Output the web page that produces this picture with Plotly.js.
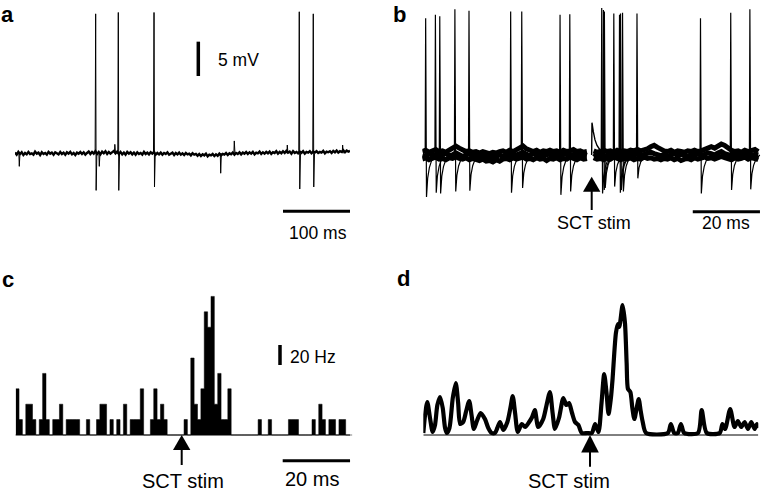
<!DOCTYPE html>
<html>
<head>
<meta charset="utf-8">
<script src="https://cdn.plot.ly/plotly-3.0.1.min.js"></script>
<style>html,body{margin:0;padding:0;background:#fff;}#chart{width:761px;height:494px;}</style>
</head>
<body>
<div id="chart"></div>
<script>
// ---------------- DATA ----------------
// Panel a: single sweep, 0-500 ms, baseline sampled every 2.5 ms (mV)
const aStepMs = 2.5;
const aBaseline = [
 0.1,-0.2,0.2,-0.1,0.15,-0.25,0.05,-0.15,0.2,-0.1,
 0.0,-0.2,0.25,-0.05,0.1,-0.25,0.15,-0.1,0.05,-0.2,
 0.2,-0.05,0.1,-0.2,0.15,0.0,-0.15,0.2,-0.1,0.1,
 -0.2,0.15,-0.05,0.2,-0.15,0.05,-0.25,0.1,-0.05,0.2,
 -0.1,0.15,-0.2,0.05,0.25,-0.1,0.2,-0.05,0.3,-0.1,
 0.2,-0.15,0.25,0.0,0.3,-0.1,0.2,-0.05,0.15,0.35,
 0.0,0.25,-0.1,0.2,-0.15,0.1,-0.2,0.2,-0.05,0.15,
 -0.15,0.1,-0.2,0.15,-0.1,0.05,-0.2,0.2,-0.1,0.1,
 -0.15,0.15,-0.05,0.2,-0.2,0.05,-0.15,0.1,-0.2,0.05,
 -0.1,0.15,-0.2,0.0,0.1,-0.25,0.05,-0.15,0.1,-0.2,
 0.0,-0.25,0.05,-0.15,-0.05,-0.3,0.0,-0.2,-0.1,-0.35,
 -0.1,-0.4,-0.15,-0.3,-0.05,-0.45,-0.2,-0.3,-0.1,-0.4,
 -0.15,-0.35,-0.05,-0.3,-0.1,-0.2,0.05,-0.25,0.0,-0.15,
 0.1,-0.2,0.05,-0.1,0.15,-0.15,0.1,-0.05,0.2,-0.1,
 0.15,-0.05,0.2,-0.15,0.1,0.0,0.25,-0.1,0.15,-0.05,
 0.2,0.0,0.25,-0.1,0.15,0.05,0.3,-0.05,0.2,0.0,
 0.3,0.05,0.35,0.1,0.25,-0.05,0.3,0.05,0.2,0.0,
 0.25,0.05,0.3,-0.05,0.2,0.1,0.3,0.0,0.25,0.1,
 0.3,0.05,0.2,0.1,0.35,0.0,0.25,0.15,0.3,0.05,
 0.35,0.15,0.4,0.1,0.3,0.2,0.45,0.15,0.4,0.25,
 0.35];
const aSpikeT      = [120.4, 154.2, 207.5, 424.3, 445.2];
const aSpikePeak   = [20.3, 20.5, 20.5, 20.6, 20.3];
const aSpikeTrough = [-5.4, -5.4, -4.9, -5.2, -4.9];
const aBlipT = [6.4, 125.8, 149, 307, 327.3, 406.4, 489];
const aBlipV = [-1.9, -1.9, 1.3, -2.9, 1.8, 1.2, 1.2];

// Panel b: overlaid sweeps, -50..50 ms around SCT stim, 1 ms samples (mV); null = stim blanking
const bSweepA = [
 0.5,0.7,0.4,0.6,0.8,0.5,0.6,0.4,0.7,0.9,
 1.3,1.0,0.7,0.5,0.6,0.4,0.5,0.3,0.5,0.4,
 0.2,0.4,0.3,0.5,0.6,0.4,0.7,0.5,0.8,1.0,
 1.3,0.9,0.6,0.5,0.7,0.4,0.6,0.5,0.7,0.5,
 0.6,0.4,0.7,0.5,0.6,0.8,0.5,0.6,0.4,0.5,
 null,
 0.6,0.4,0.5,0.7,0.5,0.6,0.4,0.7,0.5,0.6,
 0.5,0.7,0.6,0.8,0.6,0.7,0.9,1.2,1.4,1.1,
 0.8,0.6,0.5,0.7,0.4,0.6,0.5,0.4,0.6,0.5,
 0.7,0.5,0.6,0.8,1.0,1.2,1.0,1.3,1.6,1.4,
 1.0,0.7,0.5,0.6,0.4,0.7,0.5,0.6,0.8,0.5];
const bSweepB = [
 0.0,-0.2,0.2,-0.1,0.1,-0.3,0.1,0.2,-0.1,0.0,
 0.3,0.1,-0.2,0.0,0.2,-0.1,0.1,-0.2,0.0,-0.3,
 -0.2,-0.4,-0.1,0.0,-0.2,0.1,-0.1,0.2,0.0,0.3,
 0.4,0.1,-0.1,0.2,0.0,-0.2,0.1,0.0,0.2,-0.1,
 0.1,-0.2,0.2,0.0,-0.1,0.1,-0.2,0.1,0.0,-0.1,
 null,
 0.2,-0.1,0.1,0.0,-0.2,0.1,0.2,-0.1,0.0,0.1,
 -0.2,0.1,0.0,0.2,-0.1,0.1,0.3,0.4,0.2,0.0,
 -0.1,0.1,-0.2,0.0,0.2,-0.1,0.1,0.0,-0.2,0.1,
 0.0,0.2,-0.1,0.1,0.3,0.2,0.0,0.3,0.5,0.2,
 0.1,-0.1,0.2,0.0,-0.2,0.1,0.2,-0.1,0.1,0.0];
const bSweepC = [
 -0.6,-0.4,-0.7,-0.5,-0.3,-0.6,-0.5,-0.7,-0.4,-0.5,
 -0.3,-0.5,-0.6,-0.4,-0.7,-0.5,-0.6,-0.8,-0.6,-0.9,
 -0.8,-1.0,-0.7,-0.9,-0.6,-0.5,-0.7,-0.4,-0.6,-0.5,
 -0.3,-0.6,-0.5,-0.7,-0.4,-0.6,-0.5,-0.8,-0.5,-0.6,
 -0.4,-0.7,-0.5,-0.6,-0.3,-0.5,-0.7,-0.4,-0.6,-0.5,
 null,
 -0.4,-0.6,-0.5,-0.7,-0.4,-0.6,-0.3,-0.5,-0.7,-0.5,
 -0.6,-0.4,-0.7,-0.5,-0.6,-0.3,-0.5,-0.4,-0.6,-0.5,
 -0.7,-0.5,-0.6,-0.4,-0.7,-0.5,-0.8,-0.6,-0.5,-0.7,
 -0.4,-0.6,-0.5,-0.3,-0.5,-0.4,-0.6,-0.3,-0.2,-0.4,
 -0.5,-0.7,-0.4,-0.6,-0.5,-0.3,-0.6,-0.4,-0.5,-0.7];
const bSpikeT = [-49.0,-46.1,-44.8,-40.3,-36.1,-23.7,-20.4,-9.0,-6.1,3.4,3.9,4.2,7.0,8.7,9.0,9.6,13.9,32.8,41.8,47.5];
const bSpikePeak = [19.9,20.4,20.2,21.2,21.0,20.9,20.9,20.4,20.5,21.4,21.1,20.9,20.6,20.4,20.6,20.7,20.6,19.9,20.7,21.2];
const bSpikeTrough = [-6.1,-5.5,-5.6,-5.3,-5.2,-5.5,-4.8,-5.8,-5.3,-5.6,-5.1,-4.8,-4.6,-5.5,-5.1,-5.3,-3.4,-5.6,-5.1,-5.0];
const bArtifactT = [0.4, 0.5, 0.9, 1.4, 2.0, 2.8, 3.6];
const bArtifactV = [0.0, 4.7, 3.4, 2.2, 1.4, 0.8, 0.5];

// Panel c: peri-stimulus histogram, 1 ms bins from -50 ms (spike counts)
const histStartMs = -50;
const histBinMs = 1;
const hzPerSpike = 15.4;
const histCounts = [
 3,1,0,2,2,1,0,1,4,1,
 0,1,1,2,0,1,1,1,1,0,
 0,1,0,0,1,2,2,0,1,0,
 1,0,2,0,1,1,1,3,0,0,
 1,3,1,2,1,0,0,0,0,0,
 1,0,5,2,1,3,8,7,9,2,
 4,1,1,3,0,0,0,0,0,0,
 0,0,1,0,0,1,0,0,0,0,
 0,1,1,1,0,0,0,0,1,0,
 2,1,0,1,1,0,1,1,0,0];

// Panel d: smoothed firing rate (ms, Hz)
const rateT = [-50,-49.4,-48.8,-48,-47.2,-46.5,-45.8,-45,-44.2,-43.5,-43,-42.2,-41.2,-40.3,-39.6,-39,-38.1,-37.2,-36.3,-35.6,-34.9,-34,-32.9,-31.6,-30.6,-29.6,-28.6,-27.9,-27.1,-26.1,-24.9,-24,-23.3,-22.6,-21.8,-20.6,-19.6,-18.4,-17.5,-16.7,-15.7,-14.2,-13.2,-12.2,-11.4,-10.7,-9.5,-8.2,-7.3,-6.5,-5.6,-4.7,-3.7,-2.7,-1,0.3,1.3,2.3,3.2,4,4.7,5.3,6,6.5,7.5,8.1,8.5,9.5,10.2,10.7,11.1,11.8,12.4,13,13.7,14.3,14.9,15.5,16.5,23,23.9,24.9,26,26.9,27.9,32,33.1,34.6,38.5,39.3,40.1,41.6,42.9,43.9,44.9,45.9,46.9,47.9,48.9,49.6,50];
const rateHz = [0,20,31,15,1,8,28,36,25,5,0,5,35,50,30,9,11,22,32,18,4,12,20,14,5,0,0,5,11,3,11,25,37,20,1,9,6,11,16,23,6,14,28,41,20,4,15,35,28,30,20,11,8,0,0,0,9,1,30,59,40,19,35,54,100,109,106,128,110,70,44,41,25,14,25,34,22,11,0,0,9,0,0,9,0,0,23,0,0,9,4,24,6,12,6,11,4,11,4,9,5];

// ---------------- BUILD ----------------
const W = 761, H = 494;
const px = x => x / W;
const py = y => 1 - y / H;
const INK = '#000';
const FONT = 'Liberation Sans, Arial, Helvetica, sans-serif';

const aT = aBaseline.map((_, i) => i * aStepMs);
const bT = bSweepA.map((_, i) => -50 + i);

function spikesA() {
  const x = [], y = [];
  aSpikeT.forEach((t, k) => {
    x.push(t - 0.8, t, t + 0.7, t + 1.8, null);
    y.push(0, aSpikePeak[k], aSpikeTrough[k], 0, null);
  });
  return {x, y};
}
function blipsA() {
  const x = [], y = [];
  aBlipT.forEach((t, k) => { x.push(t - 0.6, t, t + 1.0, null); y.push(0, aBlipV[k], 0, null); });
  return {x, y};
}
function spikesB() {
  const x = [], y = [];
  bSpikeT.forEach((t, k) => {
    const tr = bSpikeTrough[k];
    x.push(t - 0.15, t, t + 0.25, t + 0.6, t + 1.1, t + 1.9, t + 3.0, null);
    y.push(0, bSpikePeak[k], tr, tr * 0.55, tr * 0.3, tr * 0.1, 0, null);
  });
  return {x, y};
}
// histogram as a filled step outline (bin edges)
function histStep() {
  const x = [], y = [];
  histCounts.forEach((c, i) => { x.push(histStartMs + i * histBinMs); y.push(c * hzPerSpike); });
  x.push(histStartMs + histCounts.length * histBinMs); y.push(0);
  return {x, y};
}

const sa = spikesA(), ba = blipsA(), sb = spikesB(), hs = histStep();
const line = (w) => ({color: INK, width: w});

const data = [
  {type:'scatter', mode:'lines', x:aT, y:aBaseline, line:line(2.4), xaxis:'x', yaxis:'y', hoverinfo:'skip'},
  {type:'scatter', mode:'lines', x:sa.x, y:sa.y, line:line(1), xaxis:'x', yaxis:'y', connectgaps:false, hoverinfo:'skip'},
  {type:'scatter', mode:'lines', x:ba.x, y:ba.y, line:line(1), xaxis:'x', yaxis:'y', connectgaps:false, hoverinfo:'skip'},

  {type:'scatter', mode:'lines', x:bT, y:bSweepA, line:line(5), xaxis:'x2', yaxis:'y2', connectgaps:false, hoverinfo:'skip'},
  {type:'scatter', mode:'lines', x:bT, y:bSweepB, line:line(5), xaxis:'x2', yaxis:'y2', connectgaps:false, hoverinfo:'skip'},
  {type:'scatter', mode:'lines', x:bT, y:bSweepC, line:line(5), xaxis:'x2', yaxis:'y2', connectgaps:false, hoverinfo:'skip'},
  {type:'scatter', mode:'lines', x:sb.x, y:sb.y, line:line(1.2), xaxis:'x2', yaxis:'y2', connectgaps:false, hoverinfo:'skip'},
  {type:'scatter', mode:'lines', x:bArtifactT, y:bArtifactV, line:line(1.4), xaxis:'x2', yaxis:'y2', hoverinfo:'skip'},

  {type:'scatter', mode:'lines', x:hs.x, y:hs.y, line:{color:INK, width:0.5, shape:'hv'}, fill:'tozeroy', fillcolor:INK,
   xaxis:'x3', yaxis:'y3', hoverinfo:'skip'},

  {type:'scatter', mode:'lines', x:rateT, y:rateHz, line:{color:INK, width:4.2, shape:'spline', smoothing:0.7},
   xaxis:'x4', yaxis:'y4', hoverinfo:'skip'}
];

const hid = {visible:false, showgrid:false, zeroline:false, fixedrange:true};
const layout = {
  width: W, height: H, autosize:false,
  margin:{l:0, r:0, t:0, b:0, pad:0},
  paper_bgcolor:'#fff', plot_bgcolor:'rgba(0,0,0,0)',
  showlegend:false,
  font:{family:FONT, color:INK},
  xaxis: Object.assign({domain:[px(15), px(350)], range:[0, 500], anchor:'y'}, hid),
  yaxis: Object.assign({domain:[py(245), 1], range:[(153.3 - 245) / 6.87, 153.3 / 6.87], anchor:'x'}, hid),
  xaxis2: Object.assign({domain:[px(422.3), px(760.3)], range:[-50, 50.6], anchor:'y2'}, hid),
  yaxis2: Object.assign({domain:[py(245), 1], range:[(155 - 245) / 6.87, 155 / 6.87], anchor:'x2'}, hid),
  xaxis3: Object.assign({domain:[px(15.67), px(352.4)], range:[-50, 50], anchor:'y3'}, hid),
  yaxis3: Object.assign({domain:[py(470), py(250)], range:[-35, 185], anchor:'x3'}, hid),
  xaxis4: Object.assign({domain:[px(423.3), px(758.3)], range:[-50, 50], anchor:'y4'}, hid),
  yaxis4: Object.assign({domain:[py(470), py(250)], range:[-37, 183], anchor:'x4'}, hid),
  shapes: [
    // scale bars
    {type:'line', xref:'x', yref:'y', x0:273.6, x1:273.6, y0:11.25, y1:16.25, line:{color:INK, width:3.5}},
    {type:'line', xref:'x', yref:'y', x0:400, x1:500, y0:-8.44, y1:-8.44, line:{color:INK, width:3}},
    {type:'line', xref:'x2', yref:'y2', x0:30.5, x1:50.5, y0:-8.25, y1:-8.25, line:{color:INK, width:3}},
    {type:'line', xref:'x3', yref:'y3', x0:29.3, x1:49.3, y0:-25.7, y1:-25.7, line:{color:INK, width:3}},
    {type:'line', xref:'x3', yref:'y3', x0:28.5, x1:28.5, y0:70, y1:90, line:{color:INK, width:3.5}},
    // baselines
    {type:'line', xref:'x3', yref:'y3', x0:-50.2, x1:49.3, y0:0, y1:0, line:{color:INK, width:1}},
    {type:'line', xref:'x4', yref:'y4', x0:-50, x1:50, y0:-2, y1:-2, line:{color:INK, width:1}},
    // stim arrows (b, c, d)
    {type:'path', xref:'paper', yref:'paper', path:`M${px(591.7)},${py(176.7)} L${px(600.4)},${py(191.7)} L${px(583)},${py(191.7)} Z`, fillcolor:INK, line:{width:0}},
    {type:'line', xref:'paper', yref:'paper', x0:px(591.7), x1:px(591.7), y0:py(191), y1:py(210), line:{color:INK, width:2}},
    {type:'path', xref:'paper', yref:'paper', path:`M${px(181.7)},${py(435)} L${px(190.4)},${py(450)} L${px(173)},${py(450)} Z`, fillcolor:INK, line:{width:0}},
    {type:'line', xref:'paper', yref:'paper', x0:px(181.7), x1:px(181.7), y0:py(449), y1:py(465), line:{color:INK, width:2}},
    {type:'path', xref:'paper', yref:'paper', path:`M${px(590)},${py(435)} L${px(598.8)},${py(452.5)} L${px(581.2)},${py(452.5)} Z`, fillcolor:INK, line:{width:0}},
    {type:'line', xref:'paper', yref:'paper', x0:px(590), x1:px(590), y0:py(452), y1:py(466.7), line:{color:INK, width:2}}
  ],
  annotations: [
    {text:'<b>a</b>', x:px(-1), y:py(0), xanchor:'left', yanchor:'top', font:{size:22}},
    {text:'<b>b</b>', x:px(391.5), y:py(0), xanchor:'left', yanchor:'top', font:{size:22}},
    {text:'<b>c</b>', x:px(-0.5), y:py(279), xanchor:'left', yanchor:'middle', font:{size:22}},
    {text:'<b>d</b>', x:px(394.5), y:py(278), xanchor:'left', yanchor:'middle', font:{size:22}},
    {text:'5 mV', x:px(216), y:py(60), xanchor:'left', yanchor:'middle', font:{size:17.5}},
    {text:'100 ms', x:px(317.5), y:py(233), xanchor:'center', yanchor:'middle', font:{size:17.5}},
    {text:'SCT stim', x:px(594), y:py(223), xanchor:'center', yanchor:'middle', font:{size:18}},
    {text:'20 ms', x:px(725.5), y:py(223), xanchor:'center', yanchor:'middle', font:{size:17.5}},
    {text:'20 Hz', x:px(287.5), y:py(356.5), xanchor:'left', yanchor:'middle', font:{size:17.5}},
    {text:'20 ms', x:px(311.7), y:py(479), xanchor:'center', yanchor:'middle', font:{size:20}},
    {text:'SCT stim', x:px(183), y:py(494), xanchor:'center', yanchor:'bottom', font:{size:20}},
    {text:'SCT stim', x:px(568.5), y:py(494), xanchor:'center', yanchor:'bottom', font:{size:20}}
  ].map(a => Object.assign({xref:'paper', yref:'paper', showarrow:false}, a))
};

Plotly.newPlot('chart', data, layout, {displayModeBar:false, staticPlot:true});
</script>
</body>
</html>
